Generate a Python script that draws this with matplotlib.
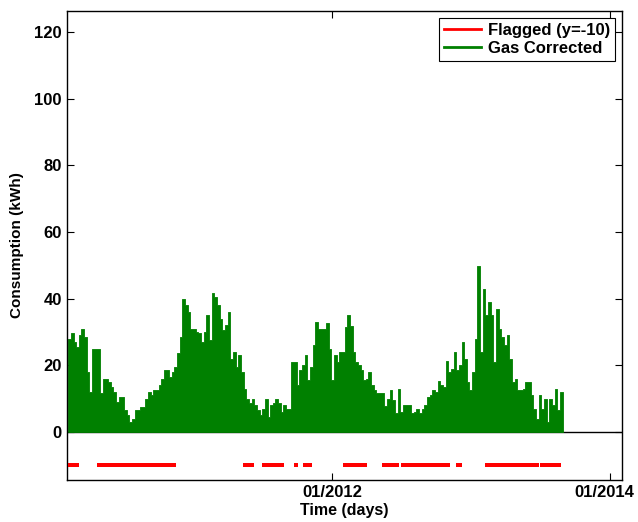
import matplotlib
matplotlib.use('Agg')
import matplotlib.pyplot as plt
import matplotlib.dates as mdates
import matplotlib.transforms as mtransforms
from matplotlib.lines import Line2D
import pandas as pd

plt.rcParams['font.family'] = ['Liberation Sans', 'DejaVu Sans']
plt.rcParams['font.weight'] = 'bold'

# weekly peak gas consumption (kWh), starting 2010-02-04
gas_start = '2010-02-04'
gas_kwh = [
    28, 29.7, 27, 25.6, 29, 31, 28.6, 18, 12, 24.8, 24.8, 24.8, 11.7, 16, 16, 15,
    13.6, 12, 9, 10.6, 10.6, 6.6, 5, 3, 4, 6.6, 6.6, 7.6, 7.6, 10, 12, 11,
    12.6, 12.6, 14, 16, 18.6, 18.6, 16.6, 18, 19.6, 23.7, 28.6, 40, 38, 36, 31, 31,
    30, 29.6, 27, 30, 35, 27.6, 41.6, 40.5, 38, 34, 30.6, 32, 36, 22, 24, 19.6,
    23, 18, 13, 10, 8.6, 10, 8, 6.6, 5, 7, 10, 4.6, 8, 8.6, 9.8, 8.8,
    6, 8, 7, 7, 21, 21, 14, 18.6, 20, 23, 15.6, 19.6, 26, 33, 30.8, 30.8,
    30.8, 32.8, 25, 15.6, 23, 21, 24, 24, 31.6, 35, 31.8, 24, 21, 20, 18.6, 15.6,
    16, 18, 14, 12.6, 11.8, 11.8, 11.8, 7.8, 9.8, 12.6, 9.6, 5.8, 12.8, 6, 8, 8,
    8, 5.6, 6, 7, 5.6, 7, 8, 10.6, 11, 12.6, 12, 15.3, 14, 13.6, 21.3, 18,
    19, 24, 18.6, 20, 27, 22, 15, 12.6, 18, 28, 49.9, 24, 43, 35, 39, 35,
    21, 37, 31, 28.6, 26, 29, 22, 15, 16, 12.6, 12.6, 13, 15, 15, 11, 7,
    4, 11, 7, 10, 3, 10, 8, 13, 6.6, 12, 5,
]

# periods flagged by the checks, drawn at y = -10
flag_start = ['2010-02-08', '2010-04-25', '2011-05-16', '2011-07-04', '2011-09-27',
              '2011-10-21', '2012-02-04', '2012-02-19', '2012-03-18', '2012-05-17',
              '2012-07-06', '2012-07-16', '2012-11-28', '2013-02-10', '2013-02-22',
              '2013-03-09', '2013-04-08', '2013-05-31', '2013-07-05']
flag_end = ['2010-02-28', '2010-11-10', '2011-06-03', '2011-08-20', '2011-09-27',
            '2011-11-03', '2012-02-08', '2012-03-11', '2012-03-27', '2012-06-19',
            '2012-07-10', '2012-10-31', '2012-12-02', '2013-02-17', '2013-03-04',
            '2013-04-02', '2013-05-20', '2013-06-22', '2013-08-20']
flag_level = -10

x_ticks = ['2012-01-01', '2014-01-01']

dates = pd.date_range(gas_start, periods=len(gas_kwh), freq='7D')
flag_days = pd.DatetimeIndex([])
for s, e in zip(flag_start, flag_end):
    flag_days = flag_days.append(pd.date_range(s, e, freq='D'))

fig = plt.figure(figsize=(6.38, 5.22), dpi=100)
ax = fig.add_axes([0.1045, 0.0805, 0.870, 0.8985])

ax.axhline(0, color='k', linewidth=1.0, zorder=1)
ax.fill_between(dates, gas_kwh, 0, step='post', color='#008000',
                edgecolor='#008000', linewidth=0.6, zorder=2)
ax.plot(flag_days, [flag_level] * len(flag_days), 's', color='red',
        markersize=2.3, markeredgewidth=0, zorder=3)

ax.set_xlim(pd.Timestamp('2010-01-31'), pd.Timestamp('2014-02-01'))
ax.set_ylim(-14.4, 126.3)
ax.set_yticks(range(0, 121, 20))
ax.set_xticks(pd.to_datetime(x_ticks))
ax.xaxis.set_major_formatter(mdates.DateFormatter('%m/%Y'))
ax.tick_params(direction='in', length=5, width=0.8, top=True, right=True,
               labelsize=12)
for sp in ax.spines.values():
    sp.set_linewidth(1.0)

# keep the last date label inside the figure
last = ax.get_xticklabels()[-1]
last.set_transform(last.get_transform() +
                   mtransforms.ScaledTranslation(-4 / 72, 0, fig.dpi_scale_trans))

ax.set_xlabel('Time (days)', fontsize=11.5, fontweight='bold', labelpad=2)
ax.set_ylabel('Consumption (kWh)', fontsize=11, fontweight='bold', labelpad=7)

handles = [Line2D([], [], color='red', linewidth=2),
           Line2D([], [], color='#008000', linewidth=2)]
ax.legend(handles, ['Flagged (y=-10)', 'Gas Corrected'], loc='upper right',
          fancybox=False, edgecolor='k', framealpha=1, fontsize=12,
          handlelength=2.2, handletextpad=0.4, borderpad=0.3, labelspacing=0.2,
          borderaxespad=0.4)
ax.get_legend().get_frame().set_linewidth(0.8)

fig.savefig('out.png', dpi=100)
